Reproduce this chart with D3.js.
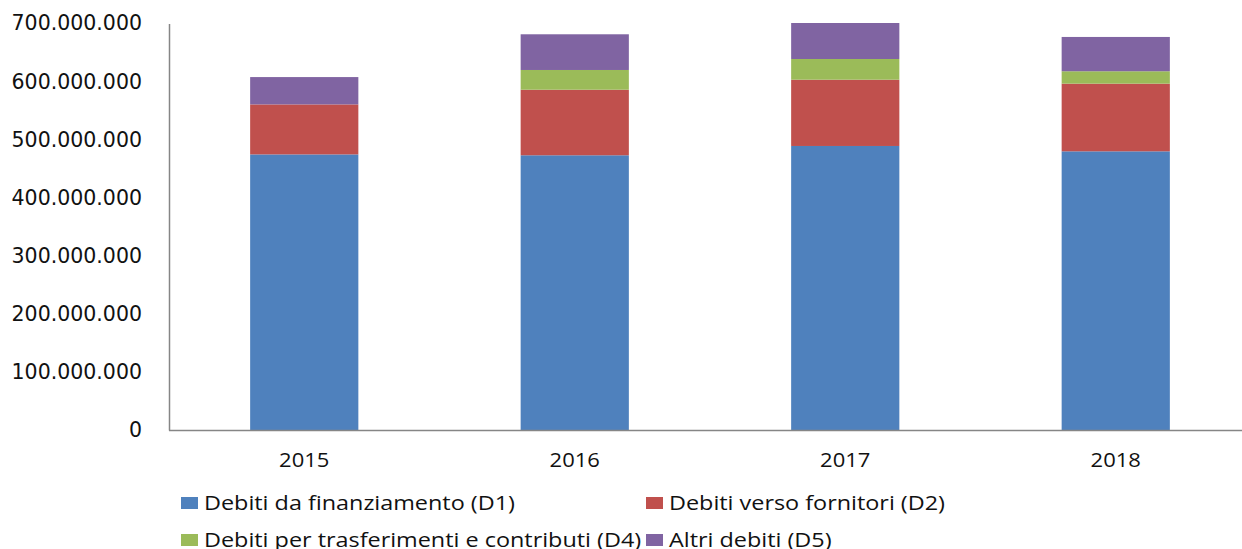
<!DOCTYPE html>
<html>
<head>
<meta charset="utf-8">
<script src="https://cdn.jsdelivr.net/npm/d3@7"></script>
<style>
  body { margin: 0; background: #fff; }
  svg { display: block; }
</style>
</head>
<body>
<div id="chart"></div>
<script>
// values, in euro
const years = ["2015", "2016", "2017", "2018"];
const d1 = [474000000, 472500000, 488500000, 479300000];
const d2 = [86000000, 112800000, 114000000, 116400000];
const d4 = [0, 33900000, 35600000, 21300000];
const d5 = [47000000, 61400000, 62500000, 59000000];
const seriesNames = ["Debiti da finanziamento (D1)", "Debiti verso fornitori (D2)",
  "Debiti per trasferimenti e contributi (D4)", "Altri debiti (D5)"];
const seriesKeys = ["d1", "d2", "d4", "d5"];
const colors = ["#4F81BD", "#C0504D", "#9BBB59", "#8064A2"];
const yTicks = [0, 100000000, 200000000, 300000000, 400000000, 500000000, 600000000, 700000000];

const width = 1242, height = 549;
// the reference text is stretched sideways
const SX_X = 1.1, SX_LEG = 1.2;

const rows = years.map((y, i) => ({ year: y, d1: d1[i], d2: d2[i], d4: d4[i], d5: d5[i] }));

const svg = d3.select("#chart").append("svg")
    .attr("width", width)
    .attr("height", height);

const x = d3.scaleBand()
    .domain(years)
    .range([169, 1251])
    .paddingInner(0.6)
    .paddingOuter(0.3);

const y = d3.scaleLinear()
    .domain([0, 700000000])
    .range([430, 23]);

const it = d3.formatLocale({ decimal: ",", thousands: ".", grouping: [3], currency: ["", "€"] });
const fmt = it.format(",d");

const stack = d3.stack().keys(seriesKeys)(rows);

svg.append("g")
  .selectAll("g")
    .data(stack)
  .enter().append("g")
    .attr("fill", (d, i) => colors[i])
  .selectAll("rect")
    .data(d => d)
  .enter().append("rect")
    .attr("x", d => x(d.data.year))
    .attr("width", x.bandwidth())
    .attr("y", d => Math.max(y(d[1]), 23))
    .attr("height", d => Math.max(0, y(d[0]) - Math.max(y(d[1]), 23)));

// axes lines
svg.append("line")
    .attr("x1", 169.5).attr("x2", 169.5)
    .attr("y1", 24).attr("y2", 430.5)
    .attr("stroke", "#868686").attr("stroke-width", 1.5);
svg.append("line")
    .attr("x1", 169).attr("x2", width)
    .attr("y1", 430.5).attr("y2", 430.5)
    .attr("stroke", "#868686").attr("stroke-width", 1.5);

// y labels
svg.append("g")
  .selectAll("text")
    .data(yTicks)
  .enter().append("text")
    .attr("transform", d => "translate(142," + y(d) + ")")
    .attr("text-anchor", "end")
    .attr("dy", "0.36em")
    .style("font-family", "DejaVu Sans, Verdana, sans-serif")
    .style("font-size", "20.5px")
    .style("fill", "#111")
    .text(d => fmt(d));

// x labels
svg.append("g")
  .selectAll("text")
    .data(years)
  .enter().append("text")
    .attr("transform", d => "translate(" + (x(d) + x.bandwidth() / 2) + ",467) scale(" + SX_X + ",1)")
    .attr("text-anchor", "middle")
    .style("font-family", "Open Sans, sans-serif")
    .style("font-size", "20px")
    .style("fill", "#111")
    .text(d => d);

// legend
const legendPos = [[181, 503], [646, 503], [181, 540], [646, 540]];
const lg = svg.append("g")
  .selectAll("g")
    .data(seriesNames)
  .enter().append("g")
    .attr("transform", (d, i) => "translate(" + legendPos[i][0] + "," + legendPos[i][1] + ")");

lg.append("rect")
    .attr("x", 0).attr("y", -6)
    .attr("width", 17).attr("height", 12)
    .attr("fill", (d, i) => colors[i]);

lg.append("text")
    .attr("transform", "translate(23,0) scale(" + SX_LEG + ",1)")
    .attr("dy", "0.36em")
    .style("font-family", "Open Sans, sans-serif")
    .style("font-size", "19.5px")
    .style("fill", "#111")
    .text(d => d);
</script>
</body>
</html>
